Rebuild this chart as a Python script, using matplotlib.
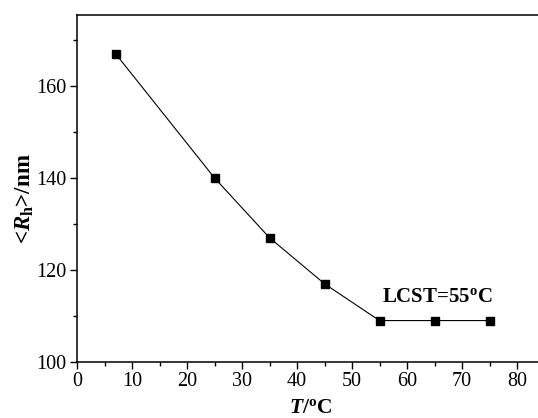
import matplotlib
matplotlib.use('Agg')
from matplotlib import pyplot as plt
from matplotlib.ticker import MultipleLocator

plt.rcParams['font.family'] = 'Liberation Serif'
plt.rcParams['mathtext.fontset'] = 'custom'
plt.rcParams['mathtext.rm'] = 'Liberation Serif'
plt.rcParams['mathtext.it'] = 'Liberation Serif:italic'
plt.rcParams['mathtext.bf'] = 'Liberation Serif:bold'
plt.rcParams['mathtext.bfit'] = 'Liberation Serif:bold:italic'

temp = [7, 25, 35, 45, 55, 65, 75]
rh = [167, 140, 127, 117, 109, 109, 109]

fig = plt.figure(figsize=(5.38, 4.18), dpi=100)
ax = fig.add_axes([77 / 538, 56 / 418, 467.5 / 538, 347 / 418])

ax.plot(temp, rh, color='black', lw=0.8, marker='s', ms=5.8, mfc='black', mec='black')

ax.set_xlim(0, 85)
ax.set_ylim(100, 175.4)
ax.xaxis.set_major_locator(MultipleLocator(10))
ax.xaxis.set_minor_locator(MultipleLocator(5))
ax.yaxis.set_major_locator(MultipleLocator(20))
ax.yaxis.set_minor_locator(MultipleLocator(10))
ax.tick_params(which='major', direction='out', length=5, width=1, labelsize=14.5, pad=2.5)
ax.tick_params(which='minor', direction='out', length=3, width=1)
for sp in ax.spines.values():
    sp.set_linewidth(1.1)

ax.text(55.4, 114.2, r'LCST=55$^{\mathbf{o}}$C', fontsize=15, fontweight='bold', va='center')
ax.set_xlabel(r'$\mathbfit{T}$/$^{\mathbf{o}}$C', fontsize=15.5, fontweight='bold', labelpad=4.5)
ax.set_ylabel(r'<$\mathbfit{R}_{\mathbf{h}}$>/nm', fontsize=16.5, fontweight='bold')
ax.yaxis.set_label_coords(-0.088, 0.47)

fig.savefig('out.png', dpi=100)
